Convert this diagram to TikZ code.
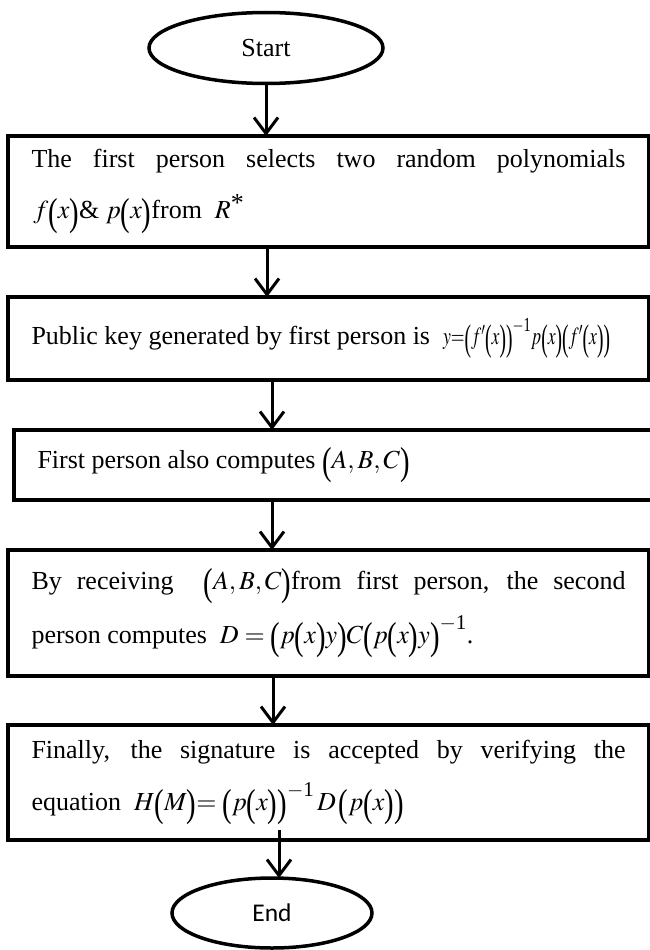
\documentclass[tikz,border=0pt]{standalone}
\usepackage{mathptmx}
\usepackage{graphicx}
\usepackage[no-math]{fontspec}
\setmainfont{Liberation Serif}
\newfontfamily\calib{Carlito}
\usetikzlibrary{arrows.meta,shapes.geometric}
\newcommand{\lpar}{\mbox{\raisebox{-0.24em}{\scalebox{1.1}[1.5]{(}}}}
\newcommand{\rpar}{\mbox{\raisebox{-0.24em}{\scalebox{1.1}[1.5]{)}}}}
\newcommand{\bp}[1]{\lpar#1\rpar}
\newcommand{\rstar}{\mbox{\raisebox{0.3em}{*}}}
\newcommand{\inv}{^{\mbox{\fontsize{21}{21}\selectfont$-$1}}}
\begin{document}
\begin{tikzpicture}[x=1pt,y=-1pt,
  box/.style={draw, line width=3.5pt, rectangle, inner xsep=23.5pt, inner ysep=0pt,
    outer sep=0pt, anchor=north west, font=\fontsize{26}{31}\selectfont},
  term/.style={draw, ellipse, line width=3.5pt, inner sep=0pt, outer sep=0pt},
  arr/.style={line width=3pt, -{Straight Barb[length=16pt,width=24pt]}}]
\useasboundingbox (0,0) rectangle (650,950);

\node[term, minimum width=234pt, minimum height=71pt, font=\fontsize{26}{30}\selectfont]
  (start) at (266,48) {Start};

\node[box, minimum height=111pt] (b1) at (8,136)
  {\parbox{594pt}{\baselineskip=51pt
   \makebox[594pt][s]{The first person selects two random polynomials}\\
   \hspace*{2pt}$f\bp{x}$\&~$p\bp{x}$from~~$R$\rstar}};

\node[box, minimum height=83pt] (b2) at (8,297)
  {\parbox{594pt}{\mbox{Public key generated by first person is~~\scalebox{0.68}[0.95]{$y{=}\bp{f'\bp{x}}\inv p\bp{x}\bp{f'\bp{x}}$}}}};

\node[box, minimum height=70pt] (b3) at (14,430)
  {\parbox{594pt}{First person also computes $\bp{A,B,C}$}};

\node[box, minimum height=126pt] (b4) at (8,550)
  {\parbox{594pt}{\baselineskip=54pt
   \makebox[594pt][s]{By receiving \ $\bp{A,B,C}$from first person, the second}\\
   person computes~~$D = \bp{p\bp{x}y}C\bp{p\bp{x}y}\inv$.}};

\node[box, minimum height=115pt] (b5) at (8,725)
  {\parbox{594pt}{\baselineskip=52pt
   \makebox[594pt][s]{Finally, the signature is accepted by verifying the}\\
   equation~~$H\bp{M}{=}\;\bp{p\bp{x}}\inv\,D\,\bp{p\bp{x}}$}};

\node[term, minimum width=200pt, minimum height=70pt, font=\calib\fontsize{25.5}{30}\selectfont]
  (end) at (272,913) {End};

\coordinate (a5) at (279,830);

\draw[arr] (start.south) -- (start.south |- b1.north);
\draw[arr] (b1.south -| 267,0) -- (b2.north -| 267,0);
\draw[arr] (b2.south -| 272,0) -- (b3.north -| 272,0);
\draw[arr] (b3.south -| 272,0) -- (b4.north -| 272,0);
\draw[arr] (b4.south -| 273,0) -- (b5.north -| 273,0);
\draw[arr] (a5) -- (a5 |- end.north);
\end{tikzpicture}
\end{document}
